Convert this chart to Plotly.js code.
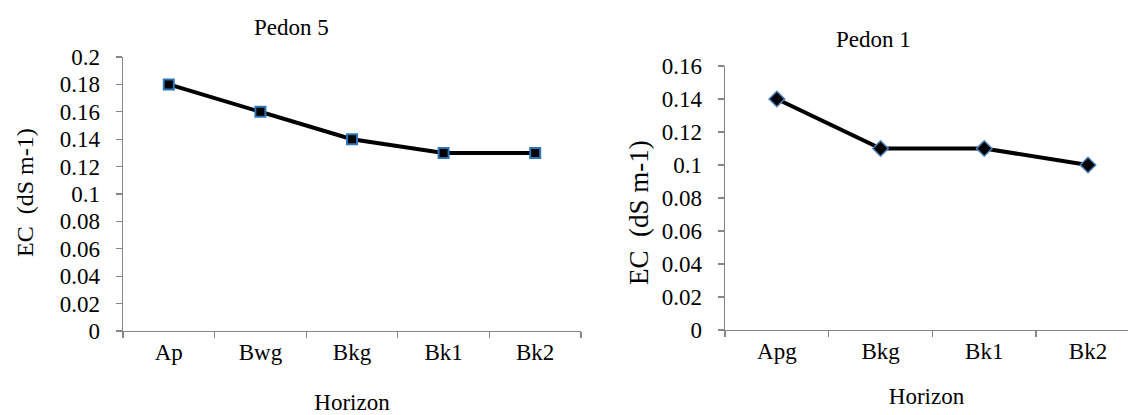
<!DOCTYPE html>
<html>
<head>
<meta charset="utf-8">
<script src="https://cdn.plot.ly/plotly-3.0.1.min.js"></script>
<style>html,body{margin:0;padding:0;background:#fff;}#chart{width:1128px;height:415px;}</style>
</head>
<body>
<div id="chart"></div>
<script>
// Pedon 5
const horizons5 = ["Ap", "Bwg", "Bkg", "Bk1", "Bk2"];
const ec5 = [0.18, 0.16, 0.14, 0.13, 0.13];
// Pedon 1
const horizons1 = ["Apg", "Bkg", "Bk1", "Bk2"];
const ec1 = [0.14, 0.11, 0.11, 0.10];

const titles = ["Pedon 5", "Pedon 1"];
const xTitle = "Horizon";
const yTitle = "EC  (dS m-1)";

const FONT = "Liberation Serif";
const AXC = "#868686";

const traces = [
  {
    x: horizons5, y: ec5, type: "scatter", mode: "lines+markers",
    xaxis: "x", yaxis: "y",
    line: {color: "#000000", width: 4},
    marker: {symbol: "square", size: 10, color: "#000000", line: {color: "#2E75B6", width: 2}},
    showlegend: false, hoverinfo: "x+y"
  },
  {
    x: horizons1, y: ec1, type: "scatter", mode: "lines+markers",
    xaxis: "x2", yaxis: "y2",
    line: {color: "#000000", width: 4},
    marker: {symbol: "diamond", size: 12, color: "#000000", line: {color: "#4F81BD", width: 1.5}},
    showlegend: false, hoverinfo: "x+y"
  }
];

function xax(domain, range, cats, standoff) {
  return {
    domain: domain, range: range, type: "category",
    categoryorder: "array", categoryarray: cats,
    tickson: "boundaries", ticks: "outside", ticklen: 6, tickcolor: AXC, tickwidth: 1.3,
    showline: true, linecolor: AXC, linewidth: 1.3,
    showgrid: false, zeroline: false,
    tickfont: {family: FONT, size: 23, color: "#000"},
    title: {text: xTitle, font: {family: FONT, size: 23, color: "#000"}, standoff: standoff}
  };
}
function yax(domain, range) {
  return {
    domain: domain, range: range, dtick: 0.02, tick0: 0,
    ticks: "outside", ticklen: 6, tickcolor: AXC, tickwidth: 1.3,
    ticklabelstandoff: 11,
    showline: true, linecolor: AXC, linewidth: 1.3,
    showgrid: false, zeroline: false,
    tickfont: {family: FONT, size: 23, color: "#000"}
  };
}

const layout = {
  width: 1128, height: 415,
  margin: {l: 0, r: 0, t: 0, b: 0},
  paper_bgcolor: "#fff", plot_bgcolor: "#fff",
  font: {family: FONT},
  xaxis: xax([123/1128, 581/1128], [-0.5, 4.5], horizons5, 34),
  yaxis: yax([1 - 331/415, 1 - 57/415], [0, 0.2]),
  xaxis2: Object.assign(xax([725/1128, 1], [-0.5, 3.386], horizons1, 25), {anchor: "y2"}),
  yaxis2: Object.assign(yax([1 - 330/415, 1 - 66/415], [0, 0.16]), {anchor: "x2"}),
  annotations: [
    {text: titles[0], xref: "paper", yref: "paper", x: 291/1128, y: 1 - 27/415, xanchor: "center", yanchor: "middle", showarrow: false, font: {family: FONT, size: 23, color: "#000"}},
    {text: titles[1], xref: "paper", yref: "paper", x: 873/1128, y: 1 - 40/415, xanchor: "center", yanchor: "middle", showarrow: false, font: {family: FONT, size: 23, color: "#000"}},
    {text: yTitle, xref: "paper", yref: "paper", x: 25/1128, y: 1 - 193/415, xanchor: "center", yanchor: "middle", textangle: -90, showarrow: false, font: {family: FONT, size: 24, color: "#000"}},
    {text: yTitle, xref: "paper", yref: "paper", x: 639/1128, y: 1 - 213/415, xanchor: "center", yanchor: "middle", textangle: -90, showarrow: false, font: {family: FONT, size: 27, color: "#000"}}
  ]
};
layout.xaxis.anchor = "y";
layout.yaxis.anchor = "x";

Plotly.newPlot("chart", traces, layout, {displayModeBar: false, staticPlot: true});
</script>
</body>
</html>
